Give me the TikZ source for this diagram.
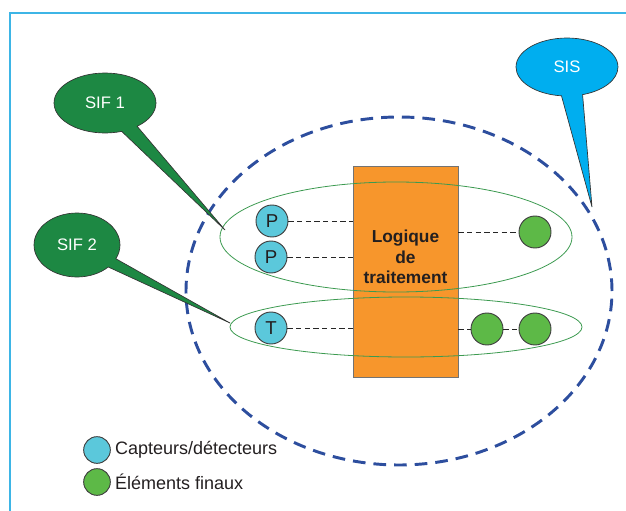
\documentclass[tikz,border=0pt]{standalone}
\usepackage{fontspec}
\setmainfont{Liberation Sans}
\usetikzlibrary{positioning,shapes.geometric,shapes.callouts}
\definecolor{framecyan}{HTML}{3DB5E6}
\definecolor{sisblue}{HTML}{00AEEF}
\definecolor{sisdash}{HTML}{2D4E9E}
\definecolor{sifgreen}{HTML}{1D8843}
\definecolor{loopgreen}{HTML}{3C9A50}
\definecolor{logicorange}{HTML}{F7962C}
\definecolor{sensorblue}{HTML}{5BC8DB}
\definecolor{finalgreen}{HTML}{5DB947}
\definecolor{textdark}{HTML}{231F20}

\begin{document}
\begin{tikzpicture}[x=0.75pt,y=-0.75pt,
  bubble/.style={ellipse callout,draw=black!80,line width=0.5pt,text=white,
    font=\fontsize{12.5}{14}\selectfont,inner sep=0pt},
  sensor/.style={circle,draw=black!75,fill=sensorblue,line width=0.7pt,minimum size=24pt,
    inner sep=0pt,text=textdark,font=\fontsize{14}{16}\selectfont},
  final/.style={circle,draw=black!75,fill=finalgreen,line width=0.7pt,minimum size=24pt,
    inner sep=0pt},
  sifloop/.style={ellipse,draw=loopgreen,line width=0.6pt,inner sep=0pt},
  link/.style={black!85,line width=0.5pt,dash pattern=on 4pt off 2.5pt},
  legendtext/.style={text=textdark,font=\fontsize{13.5}{16}\selectfont,inner sep=0pt}]
\useasboundingbox (0,0) rectangle (626,511);
\draw[framecyan,line width=0.8pt] (626,13) -| (10,511);

\node[ellipse,draw=sisdash,line width=2.2pt,dash pattern=on 9.5pt off 6pt,
  minimum width=319.5pt,minimum height=261pt] (sysloop) at (399,291) {};

\node[draw=black!55,fill=logicorange,line width=0.6pt,minimum width=78.75pt,
  minimum height=158.25pt] (logic) at (405.5,271.5) {};
\node[align=center,text=textdark,font=\fontsize{13}{15.4}\bfseries\selectfont]
  (logictxt) at ([yshift=11pt]logic.center) {Logique\\de\\traitement};

\node[sifloop,minimum width=264pt,minimum height=82.5pt] (loop1) at (396,237) {};
\node[sifloop,minimum width=264pt,minimum height=45pt] (loop2) at (406,327) {};

\node[sensor] (p1) at (272,221) {P};
\node[sensor] (p2) at (271,257) {P};
\node[sensor] (t1) at (271,328) {T};
\node[final] (f1) at (535,232) {};
\node[final] (f2) at (487,329) {};
\node[final] (f3) at (535,329) {};

\draw[link] (p1) -- (p1 -| logic.west);
\draw[link] (p2) -- (p2 -| logic.west);
\draw[link] (t1) -- (t1 -| logic.west);
\draw[link] (f1 -| logic.east) -- (f1);
\draw[link] (f2 -| logic.east) -- (f2);
\draw[link] (f2) -- (f3);

\coordinate (sif1tip) at (225,230);
\coordinate (sif2tip) at (230,323);
\coordinate (sistip) at (592,207);
\node[bubble,fill=sifgreen,minimum width=76.5pt,minimum height=45pt,
  callout absolute pointer={(sif1tip)},callout pointer arc=20] (sif1) at (105,103) {SIF 1};
\node[bubble,fill=sifgreen,minimum width=64.5pt,minimum height=48pt,
  callout absolute pointer={(sif2tip)},callout pointer arc=18] (sif2) at (77,245) {SIF 2};
\node[bubble,fill=sisblue,minimum width=76.5pt,minimum height=43.5pt,
  callout absolute pointer={(sistip)},callout pointer arc=24] (sis) at (567,67) {SIS};

\node[sensor,minimum size=20pt] (leg1) at (97,450) {};
\node[final,minimum size=20pt] (leg2) at (97,482) {};
\node[legendtext,right=3pt of leg1] (leg1txt) {Capteurs/détecteurs};
\node[legendtext,right=3pt of leg2] (leg2txt) {Éléments finaux};
\end{tikzpicture}
\end{document}
